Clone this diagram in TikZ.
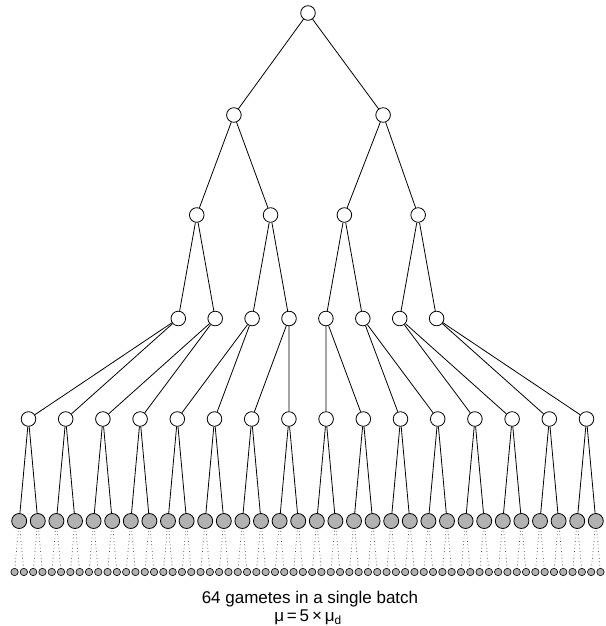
\documentclass[tikz,border=0pt]{standalone}
\usepackage{fontspec}
\setmainfont{Liberation Sans}
\usetikzlibrary{positioning}

\begin{document}
\begin{tikzpicture}[x=1pt,y=-1pt,
  wnode/.style={circle,draw,fill=white,line width=0.8pt,inner sep=0pt,minimum size=14.6pt},
  gnode/.style={circle,draw,fill=black!30,line width=0.8pt,inner sep=0pt,minimum size=15pt},
  snode/.style={circle,draw,fill=black!30,line width=0.6pt,inner sep=0pt,minimum size=7.4pt},
  edge/.style={line width=0.8pt},
  gap/.style={dash pattern=on 0.8pt off 2.6pt,black!70,line width=0.7pt},
  every node/.style={font=\fontsize{17}{20}\selectfont}]
  \useasboundingbox (0,0) rectangle (605,626);

  % tree of divisions
  \node[wnode] (r) at (308,13) {};
  \foreach \i in {0,1}
    \node[wnode] (a\i) at (233.9+149.2*\i,115) {};
  \foreach \i in {0,...,3}
    \node[wnode] (b\i) at (196.75+73.8*\i,215) {};
  \foreach \i in {0,...,7}
    \node[wnode] (c\i) at (178.3+36.9*\i,318.5) {};
  \foreach \i in {0,...,15}
    \node[wnode] (d\i) at (28.5+37.2*\i,419) {};
  \foreach \i in {0,...,31}
    \node[gnode] (e\i) at (19.2+18.6*\i,521) {};
  \foreach \i in {0,...,63}
    \node[snode] (f\i) at (14.55+9.3*\i,572) {};

  \foreach \i in {0,1}
    \draw[edge] (r) -- (a\i);
  \foreach \i in {0,...,3} {
    \pgfmathtruncatemacro\p{\i/2}
    \draw[edge] (a\p) -- (b\i);
  }
  \foreach \i in {0,...,7} {
    \pgfmathtruncatemacro\p{\i/2}
    \draw[edge] (b\p) -- (c\i);
  }
  \foreach \i in {0,...,15} {
    \pgfmathtruncatemacro\p{\i/2}
    \draw[edge] (c\p) -- (d\i);
  }
  \foreach \i in {0,...,31} {
    \pgfmathtruncatemacro\p{\i/2}
    \draw[edge] (d\p) -- (e\i);
  }
  % gametes
  \foreach \i in {0,...,63} {
    \pgfmathtruncatemacro\p{\i/2}
    \draw[gap,shorten <=2pt,shorten >=2pt] (e\p) -- (f\i);
  }

  \node[anchor=base] (batch) at (310,603.3) {64 gametes in a single batch};
  \node[anchor=base] (rate) at (308,621.7) {μ\,=\,5\,×\,μ\textsubscript{d}};
\end{tikzpicture}
\end{document}
